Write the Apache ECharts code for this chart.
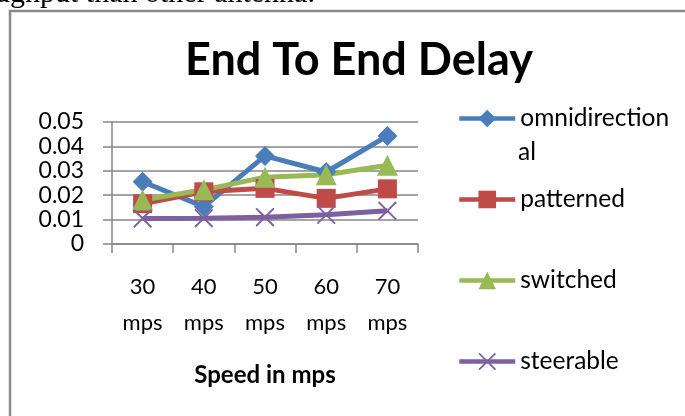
<!DOCTYPE html>
<html>
<head>
<meta charset="utf-8">
<script src="https://cdn.jsdelivr.net/npm/echarts@6/dist/echarts.min.js"></script>
<style>
  html, body { margin: 0; padding: 0; background: #fff; }
  #chart { width: 685px; height: 416px; }
</style>
</head>
<body>
<div id="chart"></div>
<script>
// Speeds on the x axis (two-line labels)
const categories = ['30\nmps', '40\nmps', '50\nmps', '60\nmps', '70\nmps'];
// End-to-end delay per antenna type
const omnidirectional = [0.0255, 0.0153, 0.0361, 0.0295, 0.0443];
const patterned = [0.0165, 0.0214, 0.0228, 0.0187, 0.0226];
const switched = [0.0180, 0.0222, 0.0274, 0.0284, 0.0323];
const steerable = [0.0105, 0.0106, 0.0110, 0.0120, 0.0136];
// Value axis tick labels, bottom to top
const yTickLabels = ['0', '0.01', '0.02', '0.03', '0.04', '0.05'];

const FONT = 'Lato';
const AXIS_GRAY = '#868686';
const COLORS = {
  omnidirectional: '#4A7EBB',
  patterned: '#BE4B48',
  switched: '#98B954',
  steerable: '#7D60A0'
};
// thin filled "x" marker
const CROSS_PATH = 'path://M0,1.4L1.4,0L10,8.6L18.6,0L20,1.4L11.4,10L20,18.6L18.6,20L10,11.4L1.4,20L0,18.6L8.6,10Z';

const chart = echarts.init(document.getElementById('chart'), null, { renderer: 'canvas' });

function lineSeries(name, data, symbol, size) {
  return {
    name: name,
    type: 'line',
    data: data,
    symbol: symbol,
    symbolSize: size,
    symbolKeepAspect: true,
    showAllSymbol: true,
    lineStyle: { width: 5, color: COLORS[name] },
    itemStyle: { color: COLORS[name] },
    emphasis: { disabled: true },
    z: 3
  };
}

function legendItem(name, top, extra) {
  return Object.assign({
    data: [name],
    left: 457,
    top: top,
    orient: 'vertical',
    padding: 0,
    itemWidth: 56,
    itemHeight: 22,
    selectedMode: false,
    lineStyle: { width: 4.5 },
    textStyle: { fontFamily: FONT, fontSize: 24.5, color: '#000' }
  }, extra || {});
}

const option = {
  animation: false,
  backgroundColor: '#fff',
  title: {
    text: 'End To End Delay',
    left: 185,
    top: 38,
    padding: 0,
    textStyle: { fontFamily: FONT, fontWeight: 'bold', fontSize: 45, color: '#000' }
  },
  graphic: [
    {
      type: 'text',
      left: -20,
      top: -21,
      style: {
        text: 'oughput than other antenna.',
        font: '30px "Liberation Serif"',
        fill: '#000'
      },
      silent: true
    },
    {
      type: 'rect',
      shape: { x: 10, y: 11, width: 720, height: 440 },
      style: { fill: 'none', stroke: '#8A8A8A', lineWidth: 2.5 },
      silent: true
    },
    {
      // wrapped tail of the first legend entry
      type: 'text',
      x: 518,
      y: 152,
      style: {
        text: 'al',
        font: '24.5px Lato',
        fill: '#000',
        verticalAlign: 'middle'
      },
      silent: true
    }
  ],
  legend: [
    legendItem('omnidirectional', 106, {
      formatter: function () { return 'omnidirection'; }
    }),
    legendItem('patterned', 187),
    legendItem('switched', 268),
    legendItem('steerable', 349)
  ],
  grid: { left: 112, top: 122, width: 306, height: 122, containLabel: false },
  xAxis: {
    type: 'category',
    data: categories,
    boundaryGap: true,
    axisLine: { show: true, lineStyle: { color: AXIS_GRAY, width: 1.5 } },
    axisTick: { show: true, length: 9, lineStyle: { color: AXIS_GRAY, width: 1.5 } },
    axisLabel: { fontFamily: FONT, fontSize: 22, color: '#000', lineHeight: 36, margin: 25 },
    name: 'Speed in mps',
    nameLocation: 'middle',
    nameGap: 119,
    nameTextStyle: { fontFamily: FONT, fontWeight: 'bold', fontSize: 24, color: '#000' }
  },
  yAxis: {
    type: 'value',
    min: 0,
    max: 0.05,
    interval: 0.01,
    axisLine: { show: true, lineStyle: { color: AXIS_GRAY, width: 1.5 } },
    axisTick: { show: true, length: 9, lineStyle: { color: AXIS_GRAY, width: 1.5 } },
    splitLine: { show: true, lineStyle: { color: AXIS_GRAY, width: 1.5 } },
    axisLabel: {
      fontFamily: FONT, fontSize: 23, color: '#000', margin: 28,
      formatter: function (value, index) { return yTickLabels[index]; }
    }
  },
  series: [
    lineSeries('omnidirectional', omnidirectional, 'diamond', 20),
    lineSeries('patterned', patterned, 'rect', 19),
    lineSeries('switched', switched, 'triangle', 21),
    lineSeries('steerable', steerable, CROSS_PATH, 19)
  ]
};

chart.setOption(option);
</script>
</body>
</html>
